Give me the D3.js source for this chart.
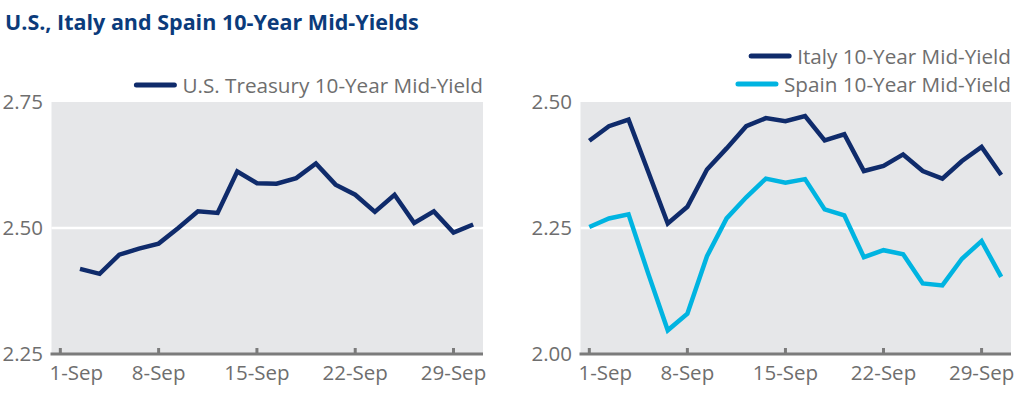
<!DOCTYPE html>
<html>
<head>
<meta charset="utf-8">
<script src="https://cdn.jsdelivr.net/npm/d3@7"></script>
<style>
  body { margin: 0; background: #fff; }
  svg { display: block; font-family: "Open Sans", "Noto Sans", sans-serif; }
</style>
</head>
<body>
<div class="chart"></div>
<script>
var w = 1030,
  h = 394,
  navy = '#0f2b6b',
  cyan = '#00b4e1',
  bg = '#e6e7e9',
  grey = '#6e6e6e',
  axisGrey = '#7b7b7b';

// business days of September (1-Sep is a US holiday, so no US value)
var days = ['1-Sep', '2-Sep', '3-Sep', '4-Sep', '5-Sep', '8-Sep', '9-Sep', '10-Sep', '11-Sep', '12-Sep',
  '15-Sep', '16-Sep', '17-Sep', '18-Sep', '19-Sep', '22-Sep', '23-Sep', '24-Sep', '25-Sep', '26-Sep',
  '29-Sep', '30-Sep'];
var tickDays = ['1-Sep', '8-Sep', '15-Sep', '22-Sep', '29-Sep'];

var usYield = [null, 2.419, 2.409, 2.447, 2.459, 2.469, 2.500, 2.533, 2.530, 2.612, 2.589,
  2.588, 2.599, 2.628, 2.586, 2.566, 2.532, 2.566, 2.510, 2.533, 2.491, 2.507];
var italyYield = [2.423, 2.452, 2.465, 2.362, 2.259, 2.292, 2.366, 2.408, 2.452, 2.468, 2.462,
  2.472, 2.424, 2.436, 2.363, 2.373, 2.396, 2.363, 2.348, 2.383, 2.411, 2.355];
var spainYield = [2.252, 2.269, 2.277, 2.160, 2.047, 2.080, 2.194, 2.269, 2.311, 2.348, 2.340,
  2.347, 2.287, 2.275, 2.192, 2.206, 2.198, 2.140, 2.136, 2.189, 2.224, 2.153];

var leftTicks = [2.25, 2.50, 2.75],
  rightTicks = [2.00, 2.25, 2.50];

var svg = d3.select('.chart')
  .append('svg')
  .attr('width', w)
  .attr('height', h);

// title
svg.append('text')
  .attr('x', 5)
  .attr('y', 30)
  .attr('font-size', '21.5px')
  .attr('font-weight', 'bold')
  .attr('fill', '#0b3b7b')
  .text('U.S., Italy and Spain 10-Year Mid-Yields');

// draws one panel: background, gridlines, axes and lines
var drawPanel = function (opts) {
  var x = d3.scaleBand()
    .domain(days)
    .range([opts.left, opts.right])
    .paddingInner(0)
    .paddingOuter(0);

  var y = d3.scaleLinear()
    .domain(opts.domain)
    .range([354, 102]);

  var g = svg.append('g');

  g.append('rect')
    .attr('x', opts.left + 1)
    .attr('y', y(opts.domain[1]))
    .attr('width', opts.right - opts.left - 1)
    .attr('height', y(opts.domain[0]) - y(opts.domain[1]))
    .attr('fill', bg);

  // white gridlines
  g.selectAll('line.grid')
    .data(opts.ticks.slice(1, -1))
    .enter()
    .append('line')
    .attr('class', 'grid')
    .attr('x1', opts.left + 1)
    .attr('x2', opts.right)
    .attr('y1', function (d) { return y(d); })
    .attr('y2', function (d) { return y(d); })
    .attr('stroke', '#fff')
    .attr('stroke-width', 2.5);

  // y labels
  var yAxis = d3.axisLeft(y)
    .tickValues(opts.ticks)
    .tickFormat(d3.format('.2f'))
    .tickSize(0)
    .tickPadding(0);

  var ya = g.append('g')
    .attr('transform', 'translate(' + opts.labelX + ',0)')
    .call(yAxis);
  ya.select('.domain').remove();
  ya.selectAll('text')
    .attr('font-size', '20.5px')
    .attr('font-family', '"Open Sans", sans-serif')
    .attr('fill', grey);

  // x axis with inward ticks
  var xAxis = d3.axisBottom(x)
    .tickValues(tickDays)
    .tickSize(0)
    .tickPadding(0);

  var xa = g.append('g')
    .attr('transform', 'translate(0,354)')
    .call(xAxis);
  xa.select('.domain').remove();
  xa.selectAll('text')
    .attr('font-size', '20.5px')
    .attr('font-family', '"Open Sans", sans-serif')
    .attr('fill', grey)
    .attr('dy', 0)
    .attr('y', 26);

  // the first label is pushed inside the plot edge
  xa.selectAll('.tick')
    .filter(function (d) { return d === tickDays[0]; })
    .select('text')
    .attr('text-anchor', 'start')
    .attr('x', opts.left - (x(tickDays[0]) + x.bandwidth() / 2) - 1);

  xa.selectAll('.tick')
    .append('line')
    .attr('y1', -6)
    .attr('y2', 0)
    .attr('stroke', axisGrey)
    .attr('stroke-width', 3);

  g.append('line')
    .attr('x1', opts.left)
    .attr('x2', opts.right)
    .attr('y1', 354)
    .attr('y2', 354)
    .attr('stroke', axisGrey)
    .attr('stroke-width', 3);

  var line = d3.line()
    .defined(function (d) { return d != null; })
    .x(function (d, i) { return x(days[i]) + x.bandwidth() / 2; })
    .y(function (d) { return y(d); });

  opts.series.forEach(function (s) {
    g.append('path')
      .datum(s.values)
      .attr('d', line)
      .attr('fill', 'none')
      .attr('stroke', s.color)
      .attr('stroke-width', 4.5)
      .attr('stroke-linejoin', 'miter');
  });

  // legend, right aligned to the plot
  opts.series.forEach(function (s) {
    var t = svg.append('text')
      .attr('x', opts.right)
      .attr('y', s.legendY + 7.5)
      .attr('text-anchor', 'end')
      .attr('font-size', '20.7px')
      .attr('fill', grey)
      .text(s.name);
    var tw = t.node().getComputedTextLength();
    svg.append('line')
      .attr('x1', opts.right - tw - 46)
      .attr('x2', opts.right - tw - 8)
      .attr('y1', s.legendY)
      .attr('y2', s.legendY)
      .attr('stroke', s.color)
      .attr('stroke-width', 5)
      .attr('stroke-linecap', 'round');
  });
};

drawPanel({
  left: 50.5,
  right: 483,
  labelX: 43,
  domain: [2.25, 2.75],
  ticks: leftTicks,
  series: [{ name: 'U.S. Treasury 10-Year Mid-Yield', values: usYield, color: navy, legendY: 85 }]
});

drawPanel({
  left: 579.5,
  right: 1011,
  labelX: 572,
  domain: [2.00, 2.50],
  ticks: rightTicks,
  series: [
    { name: 'Spain 10-Year Mid-Yield', values: spainYield, color: cyan, legendY: 84 },
    { name: 'Italy 10-Year Mid-Yield', values: italyYield, color: navy, legendY: 56 }
  ]
});
</script>
</body>
</html>
